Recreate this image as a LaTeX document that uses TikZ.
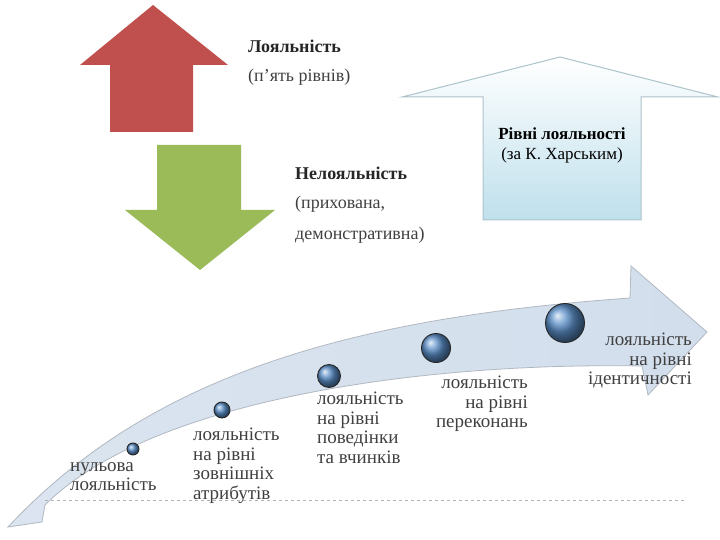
\documentclass[tikz,border=0pt]{standalone}
\usepackage{fontspec}
\setmainfont{Liberation Serif}
\usetikzlibrary{shadings}
\definecolor{ared}{HTML}{C0504D}
\definecolor{agreen}{HTML}{9BBB59}
\definecolor{aball}{HTML}{5B8FC8}
\definecolor{acurve}{HTML}{D2DEEC}
\definecolor{atop}{HTML}{BFE0EC}
\begin{document}
\begin{tikzpicture}[x=1pt,y=-1pt,
  lbl/.style={font=\fontsize{18}{20}\selectfont, text=black!75, inner sep=0pt},
  ball/.style={draw=black!85, line width=0.9pt, ball color=aball},
  lvl/.style={font=\fontsize{19}{19.5}\selectfont, text=black!75, inner sep=0pt}]
\useasboundingbox (0,0) rectangle (720,540);
\fill[ared] (153,5) -- (228,65) -- (193,65) -- (193,132) -- (110,132) -- (110,65) -- (80,65) -- cycle;
\fill[agreen] (157,145) -- (241,145) -- (241,210) -- (275,210) -- (200,270) -- (125,210) -- (157,210) -- cycle;
\node[lbl, font=\bfseries\fontsize{18}{20}\selectfont, text=black!85, anchor=west] (loy) at (248,46) {Лояльність};
\node[lbl, anchor=west] (loy2) at (248,77) {(п’ять рівнів)};
\node[lbl, font=\bfseries\fontsize{18}{20}\selectfont, text=black!85, anchor=west] (nel) at (295,173) {Нелояльність};
\node[lbl, anchor=west] (nel2) at (295,204) {(прихована,};
\node[lbl, anchor=west] (nel3) at (295,235) {демонстративна)};
\shade[top color=white, bottom color=atop, draw=atop!70!gray, line width=1pt]
 (560,57) -- (718,97) -- (641,97) -- (641,220) -- (483,220) -- (483,97) -- (402,97) -- cycle;
\node[font=\fontsize{17}{20}\selectfont, align=center, inner sep=0pt] (title) at (562,145) {\textbf{Рівні лояльності}\\(за К. Харським)};
\shade[left color=acurve!80!white, right color=acurve, draw=acurve!60!gray, line width=0.8pt]
 (8,527) .. controls (150,375) and (350,318) .. (630,298) -- (631,266) -- (707,332) -- (648,395) -- (642,366)
 .. controls (420,362) and (150,400) .. (45,505) -- (42,522) -- cycle;
\draw[gray!60, dashed] (45,500) -- (685,500);
\node[ball, circle, minimum size=12pt, inner sep=0pt] (b1) at (133,449) {};
\node[ball, circle, minimum size=16pt, inner sep=0pt] (b2) at (222,410) {};
\node[ball, circle, minimum size=23pt, inner sep=0pt] (b3) at (329,376) {};
\node[ball, circle, minimum size=29pt, inner sep=0pt] (b4) at (436,348) {};
\node[ball, circle, minimum size=39pt, inner sep=0pt] (b5) at (565,323) {};
\node[lvl, align=left, anchor=north west] (t1) at (70,462) {нульова\\лояльність};
\node[lvl, align=left, anchor=north west] (t2) at (193,428) {лояльність\\на рівні\\зовнішніх\\атрибутів};
\node[lvl, align=left, anchor=north west] (t3) at (317,392) {лояльність\\на рівні\\поведінки\\та вчинків};
\node[lvl, align=right, anchor=north east] (t4) at (528,376) {лояльність\\на рівні\\переконань};
\node[lvl, align=right, anchor=north east] (t5) at (692,333) {лояльність\\на рівні\\ідентичності};
\end{tikzpicture}
\end{document}
